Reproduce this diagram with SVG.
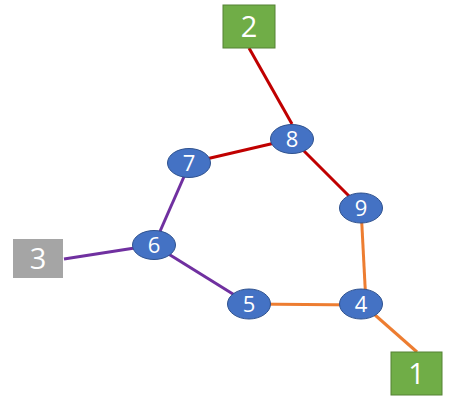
<svg xmlns="http://www.w3.org/2000/svg" width="457" height="411" viewBox="0 0 457 411">
<style>
.e{stroke-width:3;fill:none;stroke-linecap:butt}
.red{stroke:#C00000}.pur{stroke:#7030A0}.org{stroke:#ED7D31}
.n ellipse{fill:#4472C4;stroke:#2F528F;stroke-width:1}
.n text{fill:#fff;font-family:"Open Sans","Liberation Sans",sans-serif;font-size:22px;text-anchor:middle}
.b text{fill:#fff;font-family:"Open Sans","Liberation Sans",sans-serif;font-size:29px;text-anchor:middle}
.g rect{fill:#70AD47;stroke:#548235;stroke-width:1}
.gr rect{fill:#A5A5A5}
</style>
<rect width="457" height="411" fill="#fff"/>
<g id="connectors">
<line class="e red" x1="249" y1="48" x2="292" y2="124"/>
<line class="e red" x1="292" y1="139" x2="189" y2="163"/>
<line class="e red" x1="292" y1="139" x2="361" y2="208"/>
<line class="e pur" x1="190" y1="163" x2="154" y2="245"/>
<line class="e pur" x1="64" y1="259" x2="154" y2="245"/>
<line class="e pur" x1="154" y1="245" x2="249" y2="304"/>
<line class="e org" x1="249" y1="304" x2="361" y2="305"/>
<line class="e org" x1="361" y1="208" x2="366" y2="304"/>
<line class="e org" x1="375" y1="315" x2="417" y2="352"/>
</g>
<g id="box2" class="b g"><rect x="223" y="5" width="52" height="43"/><text x="249" y="37">2</text></g>
<g id="box3" class="b gr"><rect x="13" y="239" width="50" height="39"/><text x="38" y="269">3</text></g>
<g id="box1" class="b g"><rect x="391" y="352" width="51" height="43"/><text x="416.5" y="384">1</text></g>
<g id="n8" class="n"><ellipse cx="292" cy="139" rx="21.5" ry="14.5"/><text x="292" y="147">8</text></g>
<g id="n7" class="n"><ellipse cx="189" cy="163" rx="21.5" ry="14.5"/><text x="189" y="171">7</text></g>
<g id="n6" class="n"><ellipse cx="154" cy="245" rx="21.5" ry="14.5"/><text x="154" y="253">6</text></g>
<g id="n9" class="n"><ellipse cx="361" cy="208" rx="21.5" ry="15"/><text x="361" y="216">9</text></g>
<g id="n5" class="n"><ellipse cx="249" cy="304" rx="21.5" ry="15"/><text x="249" y="312">5</text></g>
<g id="n4" class="n"><ellipse cx="361" cy="304" rx="21.5" ry="15"/><text x="361" y="312">4</text></g>
</svg>
